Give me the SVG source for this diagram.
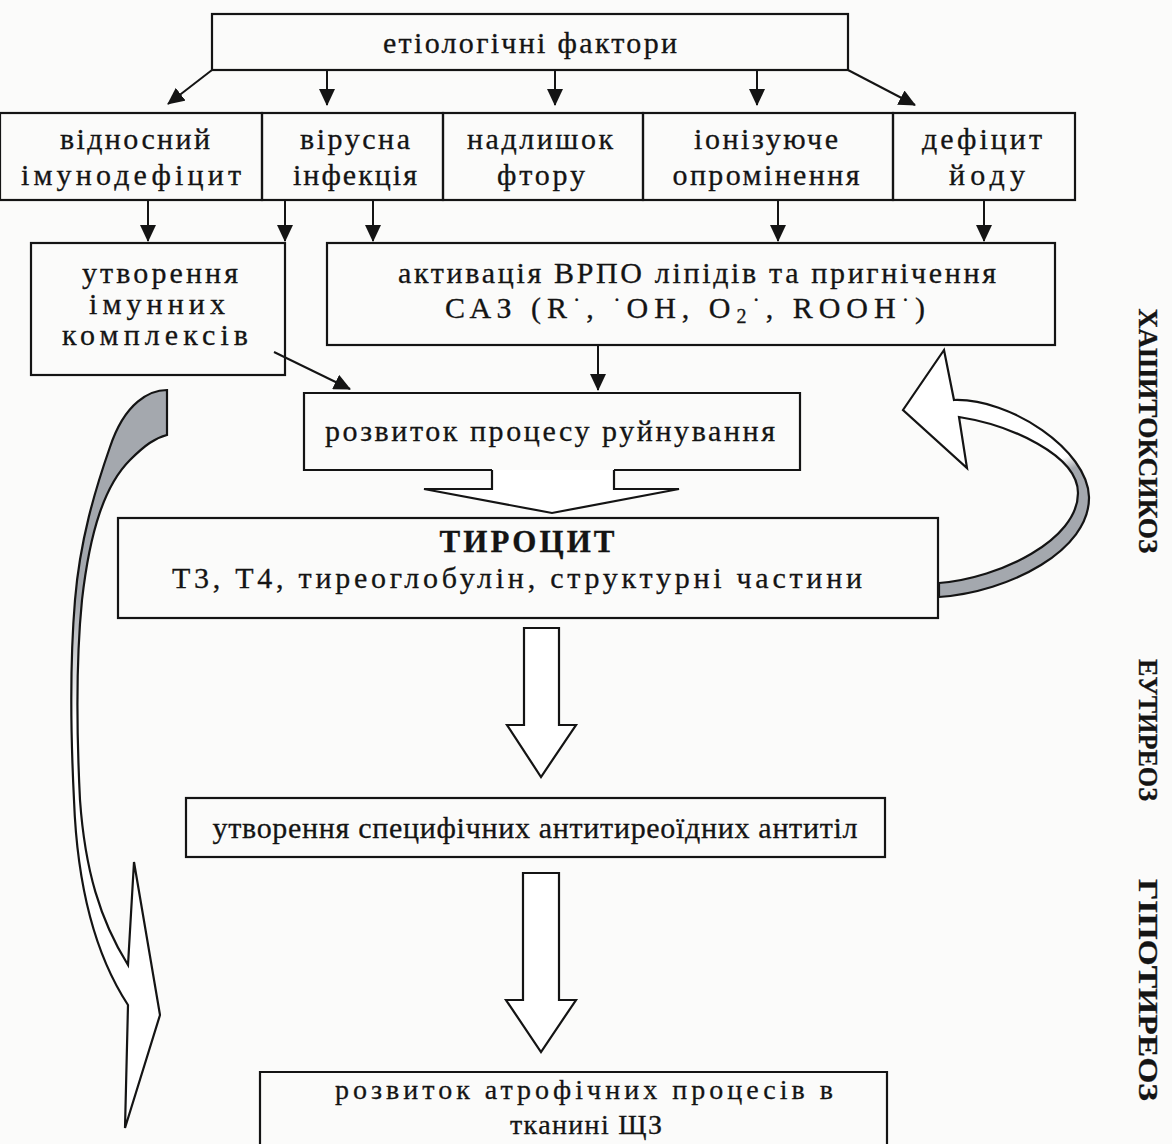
<svg xmlns="http://www.w3.org/2000/svg" width="1172" height="1144" viewBox="0 0 1172 1144">
<style>
.bx{fill:none;stroke:#141414;stroke-width:2.2}
.ln{fill:none;stroke:#141414;stroke-width:2}
.blk{fill:#fff;stroke:#141414;stroke-width:2.2;stroke-linejoin:miter}
text{font-family:"Liberation Serif","Times New Roman",serif;font-size:30px;fill:#141414;text-anchor:middle;stroke:#141414;stroke-width:0.3}
.b{font-weight:bold;font-size:31px}
.side{font-weight:bold;font-size:28px}
.sup{font-size:22px}
.sub{font-size:20px}
.sm{font-size:28px}
</style>
<defs>
<marker id="ah" markerUnits="userSpaceOnUse" markerWidth="18" markerHeight="16" refX="16" refY="8" orient="auto">
<path d="M0,0 L17,8 L0,16 z" fill="#141414"/>
</marker>
<linearGradient id="gL" gradientUnits="userSpaceOnUse" x1="0" y1="600" x2="0" y2="720">
<stop offset="0" stop-color="#a4a8ae"/>
<stop offset="1" stop-color="#ffffff"/>
</linearGradient>
<linearGradient id="gR" gradientUnits="userSpaceOnUse" x1="1060" y1="430" x2="1080" y2="480">
<stop offset="0" stop-color="#ffffff"/>
<stop offset="0.5" stop-color="#ffffff"/>
<stop offset="0.75" stop-color="#a4a8ae"/>
<stop offset="1" stop-color="#a4a8ae"/>
</linearGradient>
</defs>
<rect width="1172" height="1144" fill="#fbfbfa"/>

<g id="connectors">
<line class="ln" x1="212" y1="70" x2="168" y2="104" marker-end="url(#ah)"/>
<line class="ln" x1="327" y1="70" x2="327" y2="105" marker-end="url(#ah)"/>
<line class="ln" x1="555" y1="70" x2="555" y2="105" marker-end="url(#ah)"/>
<line class="ln" x1="757" y1="70" x2="757" y2="105" marker-end="url(#ah)"/>
<line class="ln" x1="848" y1="70" x2="915" y2="105" marker-end="url(#ah)"/>
<line class="ln" x1="148" y1="200" x2="148" y2="241" marker-end="url(#ah)"/>
<line class="ln" x1="285" y1="200" x2="285" y2="241" marker-end="url(#ah)"/>
<line class="ln" x1="373" y1="200" x2="373" y2="241" marker-end="url(#ah)"/>
<line class="ln" x1="778" y1="200" x2="778" y2="241" marker-end="url(#ah)"/>
<line class="ln" x1="984" y1="200" x2="984" y2="241" marker-end="url(#ah)"/>
<line class="ln" x1="598" y1="345" x2="598" y2="390" marker-end="url(#ah)"/>
<line class="ln" x1="274" y1="352" x2="350" y2="389" marker-end="url(#ah)"/>
<path class="blk" d="M492,470 V489 H424 L552,513 L679,489 H614 V470"/>
<path class="blk" d="M524,628 V725 H507 L541,777 L576,725 H559 V628 Z"/>
<path class="blk" d="M523,873 V1000 H506 L541,1052 L576,1000 H559 V873 Z"/>
<path d="M167,390 C150,390 125,402 110,447 C95,490 80,540 75,600 C70,660 71,740 74,800 C77,880 92,950 128,1005 L125,1128 L160,1015 L134,862 L128,965 C100,920 85,870 80,800 C77,740 76,660 82,600 C90,530 105,485 130,460 C145,445 155,438 167,435 Z" fill="url(#gL)" stroke="#141414" stroke-width="2.2" stroke-linejoin="miter"/>
<path d="M944,350 L903,410 L967,468 L959,417 C1010,425 1078,455 1078,493 C1078,540 1000,578 939,583 L939,597 C1010,592 1090,550 1089,497 C1088,450 1010,398 954,400 Z" fill="url(#gR)" stroke="#141414" stroke-width="2.2" stroke-linejoin="miter"/>
</g>

<g id="n-etiology">
<rect class="bx" x="212" y="14" width="636" height="56"/>
<text x="530" y="53" textLength="294" lengthAdjust="spacing">етіологічні фактори</text>
</g>
<g id="n-immunodef">
<rect class="bx" x="0" y="113" width="262" height="87"/>
<text x="135" y="149" textLength="150" lengthAdjust="spacing">відносний</text>
<text x="131" y="185" textLength="220" lengthAdjust="spacing">імунодефіцит</text>
</g>
<g id="n-virus">
<rect class="bx" x="262" y="113" width="181" height="87"/>
<text x="355" y="149" textLength="110" lengthAdjust="spacing">вірусна</text>
<text x="355" y="185" textLength="124" lengthAdjust="spacing">інфекція</text>
</g>
<g id="n-fluor">
<rect class="bx" x="443" y="113" width="200" height="87"/>
<text x="540" y="149" textLength="146" lengthAdjust="spacing">надлишок</text>
<text x="541" y="185" textLength="88" lengthAdjust="spacing">фтору</text>
</g>
<g id="n-radiation">
<rect class="bx" x="643" y="113" width="250" height="87"/>
<text x="766" y="149" textLength="144" lengthAdjust="spacing">іонізуюче</text>
<text x="766" y="185" textLength="187" lengthAdjust="spacing">опромінення</text>
</g>
<g id="n-iodine">
<rect class="bx" x="893" y="113" width="182" height="87"/>
<text x="982" y="149" textLength="120" lengthAdjust="spacing">дефіцит</text>
<text x="987" y="185" textLength="76" lengthAdjust="spacing">йоду</text>
</g>
<g id="n-complexes">
<rect class="bx" x="31" y="243" width="254" height="132"/>
<text x="160" y="283" textLength="156" lengthAdjust="spacing">утворення</text>
<text x="157" y="314" textLength="136" lengthAdjust="spacing">імунних</text>
<text x="155" y="345" textLength="186" lengthAdjust="spacing">комплексів</text>
</g>
<g id="n-lpo">
<rect class="bx" x="327" y="243" width="728" height="102"/>
<text x="697" y="283" textLength="598" lengthAdjust="spacing">активація ВРПО ліпідів та пригнічення</text>
<text x="685" y="318" textLength="480" lengthAdjust="spacing">САЗ (R<tspan class="sup" dy="-11">·</tspan><tspan dy="11">,  </tspan><tspan class="sup" dy="-11">·</tspan><tspan dy="11">OH, O</tspan><tspan class="sub" dy="5">2</tspan><tspan class="sup" dy="-16">·</tspan><tspan dy="11">, ROOH</tspan><tspan class="sup" dy="-11">·</tspan><tspan dy="11">)</tspan></text>
</g>
<g id="n-destruction">
<path class="bx" d="M492,470 H304 V393 H800 V470 H614"/>
<text x="550" y="441" textLength="450" lengthAdjust="spacing">розвиток процесу руйнування</text>
</g>
<g id="n-thyrocyte">
<rect class="bx" x="118" y="518" width="820" height="100"/>
<text class="b" x="527" y="552" textLength="175" lengthAdjust="spacing">ТИРОЦИТ</text>
<text x="517" y="588" textLength="690" lengthAdjust="spacing">Т3,  Т4,  тиреоглобулін,  структурні  частини</text>
</g>
<g id="n-antibodies">
<rect class="bx" x="186" y="798" width="699" height="59"/>
<text x="535" y="838" textLength="645" lengthAdjust="spacing">утворення специфічних антитиреоїдних антитіл</text>
</g>
<g id="n-atrophy">
<path class="bx" d="M260,1150 V1072 H887 V1150"/>
<text class="sm" x="584" y="1099" textLength="498" lengthAdjust="spacing">розвиток атрофічних процесів в</text>
<text class="sm" x="586" y="1134" textLength="152" lengthAdjust="spacing">тканині ЩЗ</text>
</g>
<g id="n-labels">
<text class="side" transform="translate(1139,431) rotate(90)" textLength="245" lengthAdjust="spacingAndGlyphs">ХАШИТОКСИКОЗ</text>
<text class="side" transform="translate(1139,730) rotate(90)" textLength="142" lengthAdjust="spacingAndGlyphs">ЕУТИРЕОЗ</text>
<text class="side" transform="translate(1139,990) rotate(90)" textLength="222" lengthAdjust="spacingAndGlyphs">ГІПОТИРЕОЗ</text>
</g>
</svg>
